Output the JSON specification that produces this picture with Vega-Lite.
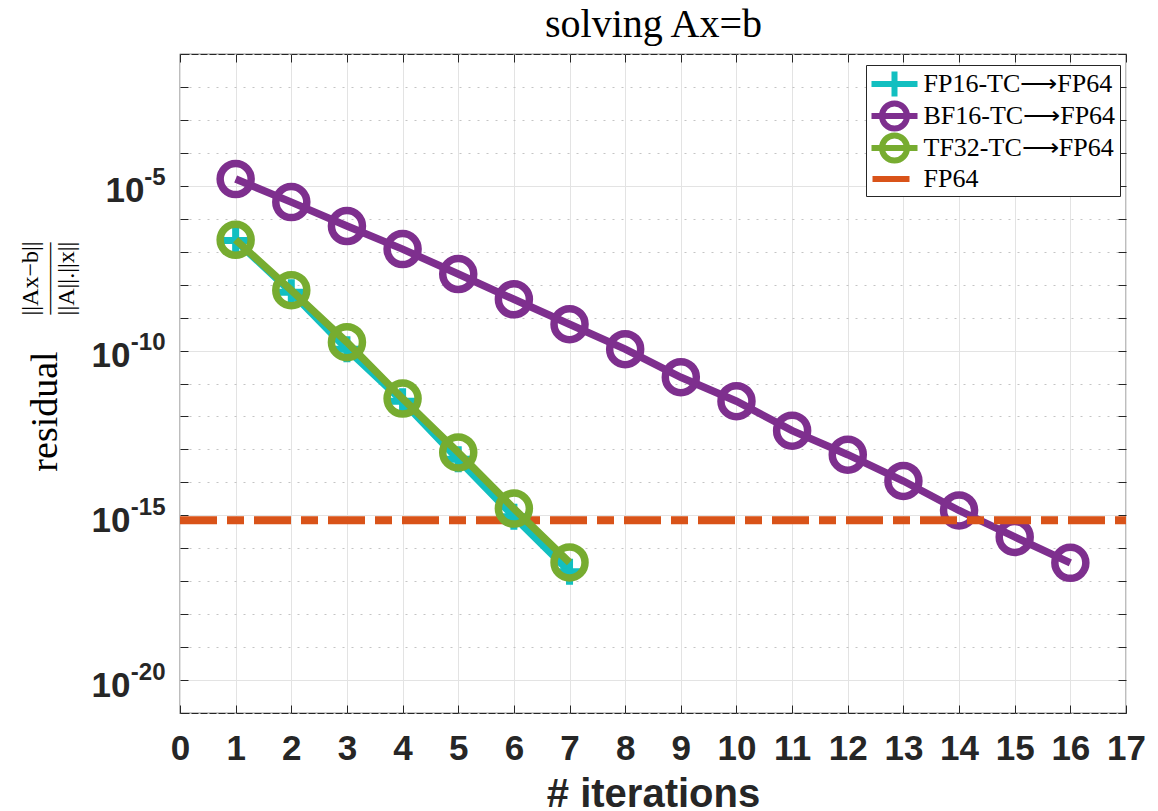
{
  "$schema": "https://vega.github.io/schema/vega-lite/v6.json",
  "width": 946,
  "height": 659,
  "autosize": "none",
  "padding": {"left": 180, "top": 54, "right": 32, "bottom": 98},
  "background": "white",
  "config": {
    "view": {"stroke": "#262626", "strokeWidth": 1.2},
    "axis": {"domain": false}
  },
  "data": {
    "values": [
      {"series": "BF16-TC⟶FP64", "iter": 1, "residual": 1.6e-5},
      {"series": "BF16-TC⟶FP64", "iter": 2, "residual": 3.2e-6},
      {"series": "BF16-TC⟶FP64", "iter": 3, "residual": 6.0e-7},
      {"series": "BF16-TC⟶FP64", "iter": 4, "residual": 1.2e-7},
      {"series": "BF16-TC⟶FP64", "iter": 5, "residual": 2.1e-8},
      {"series": "BF16-TC⟶FP64", "iter": 6, "residual": 3.6e-9},
      {"series": "BF16-TC⟶FP64", "iter": 7, "residual": 6.3e-10},
      {"series": "BF16-TC⟶FP64", "iter": 8, "residual": 1.1e-10},
      {"series": "BF16-TC⟶FP64", "iter": 9, "residual": 1.55e-11},
      {"series": "BF16-TC⟶FP64", "iter": 10, "residual": 2.9e-12},
      {"series": "BF16-TC⟶FP64", "iter": 11, "residual": 3.7e-13},
      {"series": "BF16-TC⟶FP64", "iter": 12, "residual": 6.9e-14},
      {"series": "BF16-TC⟶FP64", "iter": 13, "residual": 1.1e-14},
      {"series": "BF16-TC⟶FP64", "iter": 14, "residual": 1.4e-15},
      {"series": "BF16-TC⟶FP64", "iter": 15, "residual": 2.2e-16},
      {"series": "BF16-TC⟶FP64", "iter": 16, "residual": 3.6e-17},
      {"series": "FP16-TC⟶FP64", "iter": 1, "residual": 2.2e-7},
      {"series": "FP16-TC⟶FP64", "iter": 2, "residual": 5.9e-9},
      {"series": "FP16-TC⟶FP64", "iter": 3, "residual": 1.1e-10},
      {"series": "FP16-TC⟶FP64", "iter": 4, "residual": 2.9e-12},
      {"series": "FP16-TC⟶FP64", "iter": 5, "residual": 5.0e-14},
      {"series": "FP16-TC⟶FP64", "iter": 6, "residual": 9.1e-16},
      {"series": "FP16-TC⟶FP64", "iter": 7, "residual": 1.95e-17},
      {"series": "TF32-TC⟶FP64", "iter": 1, "residual": 2.3e-7},
      {"series": "TF32-TC⟶FP64", "iter": 2, "residual": 6.8e-9},
      {"series": "TF32-TC⟶FP64", "iter": 3, "residual": 1.8e-10},
      {"series": "TF32-TC⟶FP64", "iter": 4, "residual": 3.5e-12},
      {"series": "TF32-TC⟶FP64", "iter": 5, "residual": 8.1e-14},
      {"series": "TF32-TC⟶FP64", "iter": 6, "residual": 1.6e-15},
      {"series": "TF32-TC⟶FP64", "iter": 7, "residual": 3.7e-17},
      {"series": "FP64", "iter": 0, "residual": 7.1e-16},
      {"series": "FP64", "iter": 17, "residual": 7.1e-16}
    ]
  },
  "resolve": {"axis": {"x": "independent", "y": "independent"}},
  "layer": [
    {
      "transform": [{"filter": "datum.series == 'BF16-TC⟶FP64'"}],
      "mark": {"type": "line", "strokeWidth": 7.5},
      "encoding": {
        "x": {
          "field": "iter", "type": "quantitative",
          "scale": {"domain": [0, 17], "nice": false, "zero": false},
          "axis": {
            "orient": "bottom",
            "values": [0,1,2,3,4,5,6,7,8,9,10,11,12,13,14,15,16,17],
            "format": "d",
            "grid": true, "gridColor": "#e3e3e3", "gridWidth": 1,
            "tickSize": -8, "tickColor": "#262626", "tickWidth": 1,
            "labelFont": "Liberation Sans", "labelFontWeight": "bold", "labelFontSize": 35,
            "labelColor": "#262626", "labelPadding": 26, "labelFlush": false, "labelOverlap": false,
            "title": "# iterations", "titleFont": "Liberation Sans", "titleFontWeight": "bold",
            "titleFontSize": 40, "titleColor": "#262626", "titlePadding": 8
          }
        },
        "y": {
          "field": "residual", "type": "quantitative",
          "scale": {"type": "log", "domain": [1e-21, 1e-1], "nice": false},
          "axis": {
            "orient": "left",
            "values": [1e-21,1e-20,1e-19,1e-18,1e-17,1e-16,1e-15,1e-14,1e-13,1e-12,1e-11,1e-10,1e-9,1e-8,1e-7,1e-6,1e-5,1e-4,1e-3,1e-2,1e-1],
            "labelExpr": "abs(round(log(datum.value)/LN10)) % 5 == 0 ? '10' : ''",
            "grid": true,
            "gridColor": {"condition": {"test": "abs(round(log(datum.value)/LN10)) % 5 == 0", "value": "#e3e3e3"}, "value": "#c4c4c4"},
            "gridDash": {"condition": {"test": "abs(round(log(datum.value)/LN10)) % 5 == 0", "value": []}, "value": [2, 7]},
            "gridWidth": 1,
            "tickSize": -8, "tickColor": "#262626", "tickWidth": 1,
            "labelFont": "Liberation Sans", "labelFontWeight": "bold", "labelFontSize": 35,
            "labelColor": "#262626",
            "labelPadding": {"condition": {"test": "round(log(datum.value)/LN10) == -5", "value": 44}, "value": 58},
            "labelOffset": 5,
            "labelOverlap": false, "labelFlush": false,
            "title": "residual",
            "titleFont": "Liberation Serif", "titleFontWeight": "normal", "titleFontSize": 38,
            "titleColor": "black",
            "titleAngle": 270,
            "titleAlign": "center",
            "titleBaseline": "middle",
            "titleX": -135,
            "titleY": 357
          }
        },
        "color": {
          "field": "series", "type": "nominal",
          "scale": {
            "domain": ["FP16-TC⟶FP64", "BF16-TC⟶FP64", "TF32-TC⟶FP64", "FP64"],
            "range": ["#12BFC0", "#7E2F8E", "#77AC30", "#D95319"]
          },
          "legend": {
            "title": null,
            "orient": "none",
            "legendX": 686,
            "legendY": 11,
            "direction": "vertical",
            "padding": 4,
            "strokeColor": "#262626",
            "fillColor": "white",
            "symbolSize": 576,
            "symbolOffset": 9.5,
            "symbolStrokeWidth": 6,
            "labelFont": "Liberation Serif",
            "labelFontSize": 26,
            "labelColor": "black",
            "labelOffset": 14,
            "labelLimit": 400,
            "rowPadding": 0,
            "encode": {
              "symbols": {
                "update": {
                  "shape": {"signal": "datum.value == 'FP64' ? 'M-1.833,0L1.25,0' : datum.value == 'FP16-TC⟶FP64' ? 'M-1.917,0L1.917,0M0,-1.042L0,1.042' : 'M-1.917,0L1.917,0M-1.042,0A1.042,1.042 0 1,0 1.042,0A1.042,1.042 0 1,0 -1.042,0'"},
                  "fill": {"value": "transparent"},
                  "strokeWidth": {"value": 6},
                  "strokeJoin": {"value": "round"}
                }
              }
            }
          }
        }
      }
    },
    {
      "transform": [{"filter": "datum.series == 'BF16-TC⟶FP64'"}],
      "mark": {"type": "point", "shape": "circle", "filled": false, "size": 961, "strokeWidth": 7.5, "opacity": 1},
      "encoding": {
        "x": {"field": "iter", "type": "quantitative", "axis": null},
        "y": {
          "field": "residual", "type": "quantitative",
          "axis": {
            "orient": "left",
            "values": [1e-20, 1e-15, 1e-10, 1e-5],
            "labelExpr": "'-' + abs(round(log(datum.value)/LN10))",
            "grid": false, "ticks": false, "domain": false,
            "labelFont": "Liberation Sans", "labelFontWeight": "bold", "labelFontSize": 24,
            "labelColor": "#262626", "labelPadding": 15, "labelOffset": -8,
            "labelOverlap": false, "labelFlush": false,
            "title": ["||Ax−b||", "———", "||A||.||x||"],
            "titleFont": "Liberation Serif", "titleFontWeight": "normal", "titleFontSize": 24,
            "titleLineHeight": 18,
            "titleColor": "black",
            "titleAngle": 270,
            "titleAlign": "center",
            "titleBaseline": "middle",
            "titleX": -150,
            "titleY": 224
          }
        },
        "color": {"field": "series", "type": "nominal"}
      }
    },
    {
      "transform": [{"filter": "datum.series == 'FP64'"}],
      "mark": {"type": "line", "strokeWidth": 8, "strokeDash": [37, 10, 17, 10]},
      "encoding": {
        "x": {
          "field": "iter", "type": "quantitative",
          "axis": {
            "orient": "top",
            "values": [0,1,2,3,4,5,6,7,8,9,10,11,12,13,14,15,16,17],
            "labels": false, "grid": false, "domain": false,
            "tickSize": -8, "tickColor": "#262626", "tickWidth": 1,
            "title": "solving Ax=b",
            "titleFont": "Liberation Serif", "titleFontWeight": "normal", "titleFontSize": 40,
            "titleColor": "black", "titlePadding": 9
          }
        },
        "y": {
          "field": "residual", "type": "quantitative",
          "axis": {
            "orient": "right",
            "values": [1e-21,1e-20,1e-19,1e-18,1e-17,1e-16,1e-15,1e-14,1e-13,1e-12,1e-11,1e-10,1e-9,1e-8,1e-7,1e-6,1e-5,1e-4,1e-3,1e-2,1e-1],
            "labels": false, "grid": false, "domain": false,
            "tickSize": -8, "tickColor": "#262626", "tickWidth": 1,
            "title": null
          }
        },
        "color": {"field": "series", "type": "nominal"}
      }
    },
    {
      "transform": [{"filter": "datum.series == 'FP16-TC⟶FP64'"}],
      "mark": {"type": "line", "strokeWidth": 7.5},
      "encoding": {
        "x": {"field": "iter", "type": "quantitative", "axis": null},
        "y": {"field": "residual", "type": "quantitative", "axis": null},
        "color": {"field": "series", "type": "nominal"}
      }
    },
    {
      "transform": [{"filter": "datum.series == 'FP16-TC⟶FP64'"}],
      "mark": {"type": "point", "shape": "M-1,0L1,0M0,-1L0,1", "filled": false, "size": 676, "strokeWidth": 7, "opacity": 1},
      "encoding": {
        "x": {"field": "iter", "type": "quantitative", "axis": null},
        "y": {"field": "residual", "type": "quantitative", "axis": null},
        "color": {"field": "series", "type": "nominal"}
      }
    },
    {
      "transform": [{"filter": "datum.series == 'TF32-TC⟶FP64'"}],
      "mark": {"type": "line", "strokeWidth": 7.5},
      "encoding": {
        "x": {"field": "iter", "type": "quantitative", "axis": null},
        "y": {"field": "residual", "type": "quantitative", "axis": null},
        "color": {"field": "series", "type": "nominal"}
      }
    },
    {
      "transform": [{"filter": "datum.series == 'TF32-TC⟶FP64'"}],
      "mark": {"type": "point", "shape": "circle", "filled": false, "size": 961, "strokeWidth": 7.5, "opacity": 1},
      "encoding": {
        "x": {"field": "iter", "type": "quantitative", "axis": null},
        "y": {"field": "residual", "type": "quantitative", "axis": null},
        "color": {"field": "series", "type": "nominal"}
      }
    }
  ]
}
